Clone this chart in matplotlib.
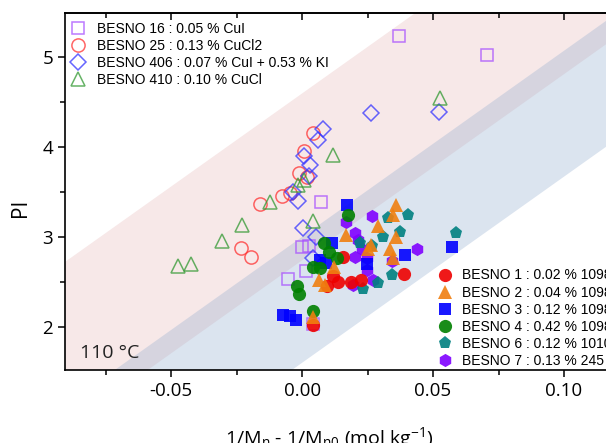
import numpy as np
import matplotlib
matplotlib.use("Agg")
import matplotlib.pyplot as plt
from matplotlib.ticker import MultipleLocator, FormatStrFormatter

plt.rcParams['font.family'] = ['Open Sans', 'DejaVu Sans']
plt.rcParams['mathtext.fontset'] = 'custom'
plt.rcParams['mathtext.rm'] = 'Open Sans'
plt.rcParams['mathtext.it'] = 'Open Sans:italic'
plt.rcParams['mathtext.default'] = 'regular'

# ---- data ----
# open symbols
b16_x = [0.037, 0.0706, 0.0073, 0.0, 0.0027, 0.0015, -0.0053, 0.0042]
b16_y = [5.23, 5.02, 3.39, 2.89, 2.90, 2.62, 2.53, 2.03]

b25_x = [0.0041, 0.0008, -0.001, 0.0018, -0.0077, -0.0046, -0.016, -0.0233, -0.0195]
b25_y = [4.15, 3.95, 3.71, 3.67, 3.45, 3.49, 3.37, 2.88, 2.78]

b406_x = [0.0079, 0.0062, 0.0008, 0.0031, 0.0028, -0.0033, -0.0014, 0.0005, 0.0052, 0.0041, 0.0263, 0.0524]
b406_y = [4.20, 4.08, 3.90, 3.80, 3.68, 3.50, 3.40, 3.10, 3.00, 2.76, 4.38, 4.39]

b410_x = [0.0117, -0.0017, 0.0008, -0.0124, -0.023, -0.0306, 0.0041, -0.0472, -0.0425, 0.0527]
b410_y = [3.91, 3.58, 3.63, 3.39, 3.13, 2.95, 3.18, 2.68, 2.70, 4.55]

# filled symbols
b1_x = [0.0156, 0.0119, 0.0139, 0.0094, 0.0187, 0.0225, 0.0389, 0.0041]
b1_y = [2.78, 2.57, 2.50, 2.45, 2.50, 2.52, 2.59, 2.02]

b2_x = [0.036, 0.0348, 0.0291, 0.0168, 0.0358, 0.0263, 0.025, 0.0336, 0.0348, 0.0123, 0.0063, 0.0088, 0.0042]
b2_y = [3.36, 3.24, 3.12, 3.02, 3.00, 2.91, 2.87, 2.86, 2.77, 2.67, 2.52, 2.47, 2.11]

b3_x = [0.0171, 0.0116, 0.0069, 0.0092, 0.0393, 0.0247, 0.0573, -0.0073, -0.0046, -0.0023]
b3_y = [3.36, 2.93, 2.74, 2.71, 2.80, 2.70, 2.89, 2.13, 2.12, 2.08]

b4_x = [0.0174, 0.0085, 0.0104, 0.0132, 0.0043, 0.0069, -0.0018, -0.0011, 0.0041]
b4_y = [3.24, 2.93, 2.83, 2.76, 2.67, 2.65, 2.45, 2.36, 2.18]

b6_x = [0.0405, 0.0329, 0.0374, 0.031, 0.0267, 0.0221, 0.0342, 0.0291, 0.0234, 0.0588]
b6_y = [3.24, 3.21, 3.06, 3.00, 2.90, 2.93, 2.58, 2.49, 2.42, 3.04]

b7_x = [0.0266, 0.0168, 0.0202, 0.0215, 0.0229, 0.0202, 0.0247, 0.0437, 0.0342, 0.0247, 0.0272, 0.0195]
b7_y = [3.23, 3.17, 3.04, 2.97, 2.87, 2.78, 2.76, 2.86, 2.73, 2.63, 2.52, 2.47]

# guide bands: PI = intercept + slope * x
band_slope = 20.7
pink_lo, pink_hi = 2.74, 4.595
blue_lo, blue_hi = 1.60, 3.0

fig = plt.figure(figsize=(6.06, 4.43), dpi=100)
ax = fig.add_axes([0.1073, 0.1648, 0.9315, 0.8059])
ax.set_xlim(-0.0905, 0.125)
ax.set_ylim(1.52, 5.49)

xx = np.linspace(-0.1, 0.13, 50)
ax.fill_between(xx, pink_lo + band_slope * xx, pink_hi + band_slope * xx,
                color='#f7e8e8', lw=0, zorder=0)
ax.fill_between(xx, blue_lo + band_slope * xx, blue_hi + band_slope * xx,
                color=(0.576, 0.679, 0.81), alpha=0.33, lw=0, zorder=0.5)

open_kw = dict(linestyle='none', markerfacecolor='none', markeredgewidth=1.1, alpha=0.75)
h16, = ax.plot(b16_x, b16_y, marker='s', color='#a64dff', markersize=8,
               label='BESNO 16 : 0.05 % CuI', **open_kw)
h25, = ax.plot(b25_x, b25_y, marker='o', color='#ff3333', markersize=9.5,
               label='BESNO 25 : 0.13 % CuCl2', **open_kw)
h406, = ax.plot(b406_x, b406_y, marker='D', color='#3333ff', markersize=8,
                label='BESNO 406 : 0.07 % CuI + 0.53 % KI', **open_kw)
h410, = ax.plot(b410_x, b410_y, marker='^', color='#339933', markersize=9.5,
                label='BESNO 410 : 0.10 % CuCl', **open_kw)

fill_kw = dict(linestyle='none', markeredgewidth=0, alpha=0.9)
h7, = ax.plot(b7_x, b7_y, marker='h', color='#7f00ff', markersize=9.5, label='BESNO 7 : 0.13 % 245', **fill_kw)
h6, = ax.plot(b6_x, b6_y, marker='p', color='#008080', markersize=9.5, label='BESNO 6 : 0.12 % 1010', **fill_kw)
h3, = ax.plot(b3_x, b3_y, marker='s', color='#0000ff', markersize=8.5, label='BESNO 3 : 0.12 % 1098', **fill_kw)
h1, = ax.plot(b1_x, b1_y, marker='o', color='#ee0000', markersize=9.5, label='BESNO 1 : 0.02 % 1098', **fill_kw)
h4, = ax.plot(b4_x, b4_y, marker='o', color='#008000', markersize=9.5, label='BESNO 4 : 0.42 % 1098', **fill_kw)
h2, = ax.plot(b2_x, b2_y, marker='^', color='#f07f10', markersize=9.5, label='BESNO 2 : 0.04 % 1098', **fill_kw)

leg_font = {'family': 'Liberation Sans', 'size': 10}
leg1 = ax.legend(handles=[h16, h25, h406, h410], loc='upper left',
                 bbox_to_anchor=(0.117, 0.951), bbox_transform=fig.transFigure,
                 frameon=False, prop=leg_font, handlelength=1.0, handletextpad=0.85,
                 labelspacing=0.22, borderpad=0, borderaxespad=0, numpoints=1)
ax.add_artist(leg1)
ax.legend(handles=[h1, h2, h3, h4, h6, h7], loc='upper left',
          bbox_to_anchor=(0.723, 0.394), bbox_transform=fig.transFigure,
          frameon=False, prop=leg_font, handlelength=1.0, handletextpad=0.72,
          labelspacing=0.22, borderpad=0, borderaxespad=0, numpoints=1)

ax.text(0.027, 0.034, '110 °C', transform=ax.transAxes, fontsize=14,
        va='baseline', ha='left', color='#222222')

# axes styling
ax.xaxis.set_major_locator(MultipleLocator(0.05))
ax.xaxis.set_minor_locator(MultipleLocator(0.025))
ax.xaxis.set_major_formatter(FormatStrFormatter('%.2f'))
ax.yaxis.set_major_locator(MultipleLocator(1))
ax.yaxis.set_minor_locator(MultipleLocator(0.5))
ax.tick_params(which='both', direction='out', labelsize=13.5, width=1.1, pad=3.5)
ax.tick_params(which='major', length=5)
ax.tick_params(which='minor', length=3.5)
ax.spines['right'].set_visible(False)
for s in ['left', 'bottom', 'top']:
    ax.spines[s].set_linewidth(1.2)

sec = ax.secondary_xaxis('top')
sec.xaxis.set_major_locator(MultipleLocator(0.05))
sec.xaxis.set_minor_locator(MultipleLocator(0.025))
sec.tick_params(which='both', direction='in', labeltop=False, width=1.1)
sec.tick_params(which='major', length=5)
sec.tick_params(which='minor', length=3.5)
sec.spines['top'].set_linewidth(1.2)

ax.set_xlabel('1/M$_n$ - 1/M$_{n0}$ (mol kg$^{-1}$)', fontsize=14)
ax.xaxis.set_label_coords(0.469, -0.155)
ax.set_ylabel('PI', fontsize=15)
ax.yaxis.set_label_coords(-0.06, 0.455)

fig.savefig('out.png', dpi=100)
